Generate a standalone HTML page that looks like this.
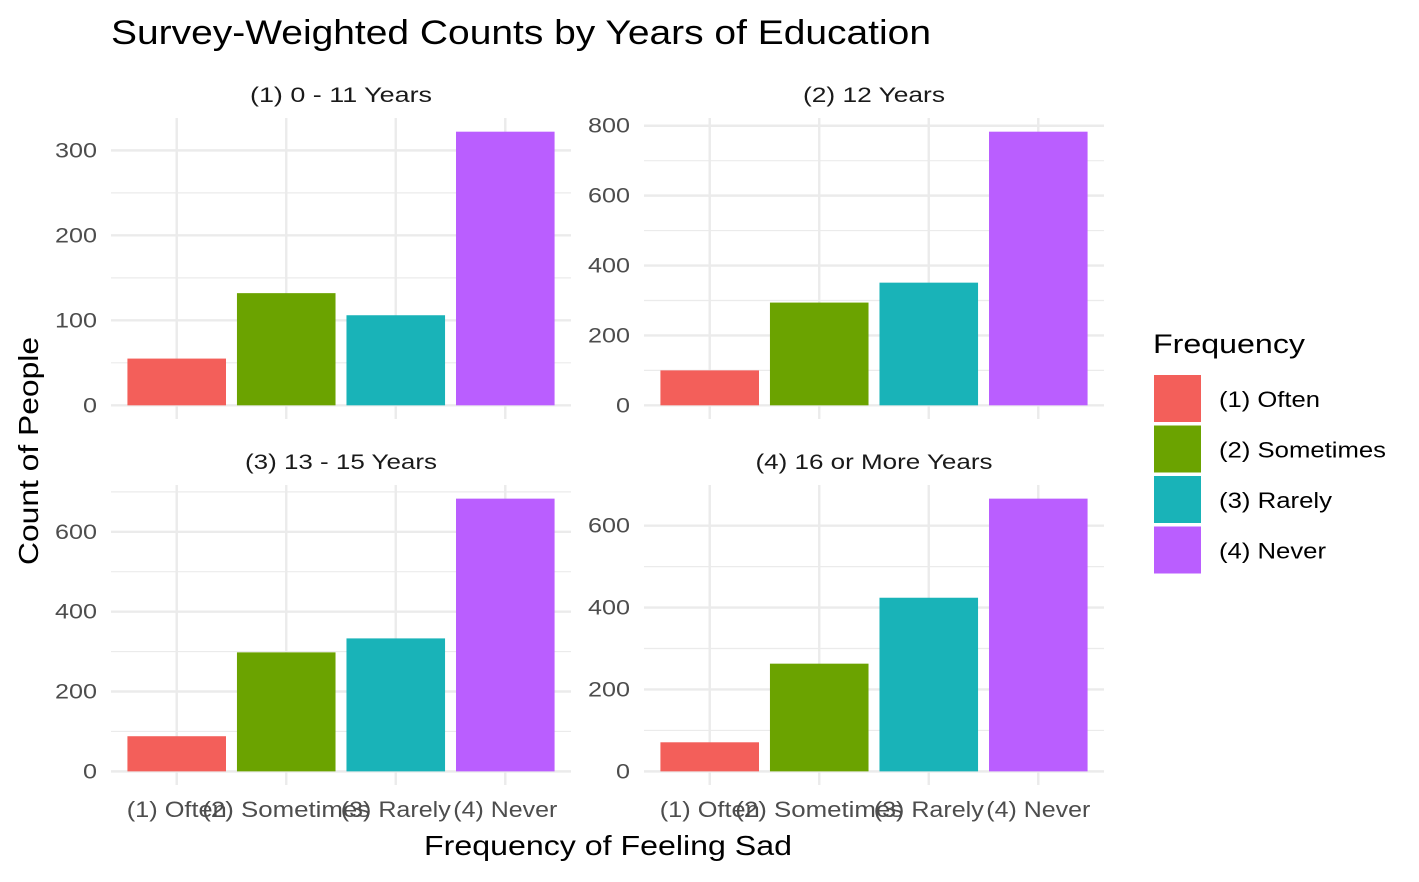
<!DOCTYPE html>
<html><head><meta charset="utf-8"><style>
body{margin:0;background:#fff;font-family:"Liberation Sans",Arial,sans-serif}
svg text{font-family:"Liberation Sans",Arial,sans-serif}
</style></head><body>
<svg id="chart" width="1419" height="877" xmlns="http://www.w3.org/2000/svg">
<text x="111" y="44" font-size="34" fill="#000" textLength="820" lengthAdjust="spacingAndGlyphs">Survey-Weighted Counts by Years of Education</text>
<text x="608" y="855" font-size="28" text-anchor="middle" fill="#000" textLength="368" lengthAdjust="spacingAndGlyphs">Frequency of Feeling Sad</text>
<text x="38" y="451" font-size="28" text-anchor="middle" fill="#000" textLength="228" lengthAdjust="spacingAndGlyphs" transform="rotate(-90 38 451)">Count of People</text>
<g id="panels"></g>
<g id="legend">
<text x="1153" y="353" font-size="27" fill="#000" textLength="152" lengthAdjust="spacingAndGlyphs">Frequency</text>
</g>
</svg>
<script>
const categories=["(1) Often","(2) Sometimes","(3) Rarely","(4) Never"];
const facets=["(1) 0 - 11 Years","(2) 12 Years","(3) 13 - 15 Years","(4) 16 or More Years"];
const valsP1=[55,132,106,322];
const valsP2=[100,294,351,783];
const valsP3=[88,298,333,683];
const valsP4=[71,263,424,666];
const ticksP1=[0,100,200,300];
const ticksP2=[0,200,400,600,800];
const ticksP3=[0,200,400,600];
const ticksP4=[0,200,400,600];
const colors=["#F35F5A","#6BA300","#19B3B8","#BA5EFF"];
const catW=[100,168,110,104];
const legW=[101,167,113,107];
const facetW=[182,142,192,237];
const NS="http://www.w3.org/2000/svg";
const g=document.getElementById('panels');
function mk(t,a,p){const e=document.createElementNS(NS,t);for(const k in a)e.setAttribute(k,a[k]);(p||g).appendChild(e);return e;}
const layout=[{x0:111,x1:571,y0:118,y1:419},{x0:644,x1:1104,y0:118,y1:419},{x0:111,x1:571,y0:485,y1:785},{x0:644,x1:1104,y0:485,y1:785}];
const allVals=[valsP1,valsP2,valsP3,valsP4];
const allTicks=[ticksP1,ticksP2,ticksP3,ticksP4];
layout.forEach((L,pi)=>{
  const vals=allVals[pi],ticks=allTicks[pi];
  const mx=Math.max(...vals);
  const lo=-0.05*mx,hi=mx*1.05;
  const y=v=>L.y1-(v-lo)/(hi-lo)*(L.y1-L.y0);
  const n=categories.length;
  const step=(L.x1-L.x0)/(n-1+1.2);
  const x=i=>L.x0+step*(0.6+i);
  const pg=mk('g',{});
  
  
  for(let k=0;k<ticks.length;k++){
    const d=ticks[1]-ticks[0];const mv=ticks[k]+d/2;
    if(mv<hi){const l=mk('line',{x1:L.x0,x2:L.x1,y1:y(mv),y2:y(mv),stroke:'#ebebeb','stroke-width':1.2},pg);}
  }
  ticks.forEach(t=>{
    const l=mk('line',{x1:L.x0,x2:L.x1,y1:y(t),y2:y(t),stroke:'#ebebeb','stroke-width':2.4},pg);
    
    
    const a={x:L.x0-14,y:y(t)+7,'font-size':21,fill:'#4d4d4d','text-anchor':'end'};
    const tx=mk('text',a,pg);
    tx.textContent=t;
    tx.setAttribute('textLength',String(t).length*14);
    tx.setAttribute('lengthAdjust','spacingAndGlyphs');
    
    
  });
  categories.forEach((c,i)=>{
    const l=mk('line',{x1:x(i),x2:x(i),y1:L.y0,y2:L.y1,stroke:'#ebebeb','stroke-width':2.4},pg);
    
    
  });
  categories.forEach((c,i)=>{
    const w=step*0.9;
    const r=mk('rect',{x:x(i)-w/2,y:y(vals[i]),width:w,height:y(0)-y(vals[i]),fill:colors[i]},pg);
    
    
    if(pi>=2){
      const tx=mk('text',{x:x(i),y:817,'font-size':22,fill:'#4d4d4d','text-anchor':'middle'},pg);
      tx.textContent=c;
      tx.setAttribute('textLength',catW[i]);
      tx.setAttribute('lengthAdjust','spacingAndGlyphs');
      
      
    }
  });
  const st=mk('text',{x:(L.x0+L.x1)/2,y:L.y0-16,'font-size':21,fill:'#1a1a1a','text-anchor':'middle'},pg);
  st.textContent=facets[pi];
  st.setAttribute('textLength',facetW[pi]);
  st.setAttribute('lengthAdjust','spacingAndGlyphs');
  
  
});
const lg=document.getElementById('legend');
categories.forEach((c,i)=>{
  const yy=375+i*50.5;
  const r=mk('rect',{x:1154,y:yy,width:47,height:47,fill:colors[i]},lg);
  
  
  const t=mk('text',{x:1219,y:yy+32,'font-size':22,fill:'#000'},lg);
  t.textContent=c;
  t.setAttribute('textLength',legW[i]);
  t.setAttribute('lengthAdjust','spacingAndGlyphs');
  
  
});
</script>
</body></html>
